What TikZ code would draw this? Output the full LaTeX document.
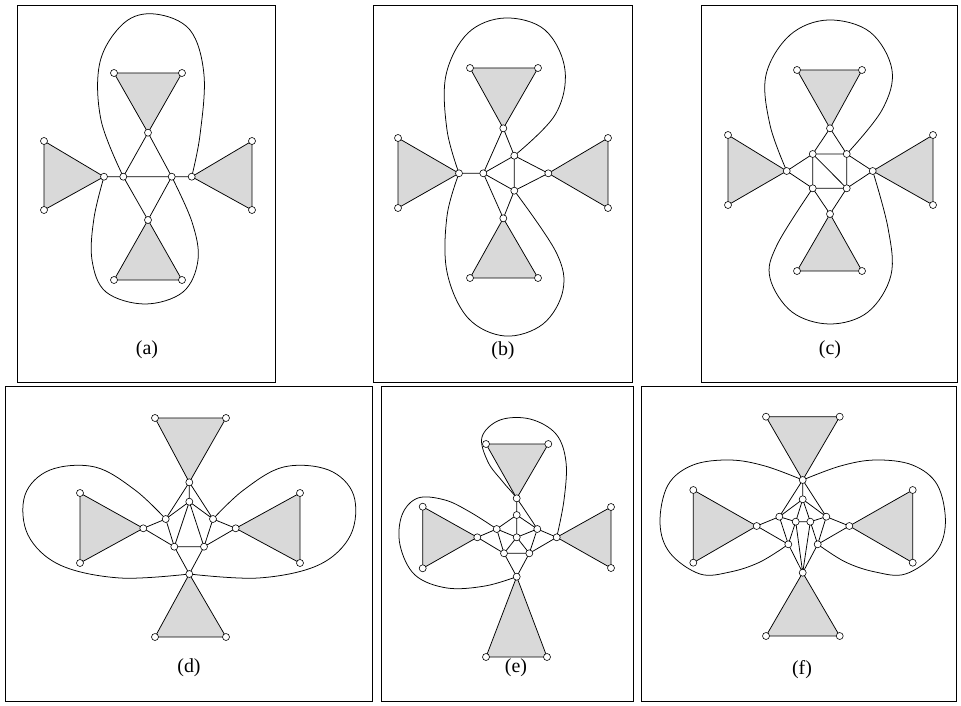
\documentclass[tikz,border=0pt]{standalone}
\usepackage{fontspec}
\setmainfont{Liberation Serif}
\newcommand{\shadetri}[3]{\filldraw[tri] (#1) -- (#2) -- (#3) -- cycle;}
\begin{document}
\begin{tikzpicture}[x=0.03cm, y=-0.03cm,
  dot/.style={circle, draw, fill=white, inner sep=0pt, minimum size=2.1mm, line width=0.5pt},
  link/.style={line width=0.65pt},
  lobe/.style={smooth, tension=0.6},
  tri/.style={fill=gray!30, draw, line width=0.65pt, line join=round},
  frame/.style={draw, line width=0.8pt},
  lab/.style={font=\fontsize{17}{20}\selectfont}
]
\useasboundingbox (0,0) rectangle (961,705);

% frames
\draw[frame] (17,5) rectangle (275,382);
\draw[frame] (373,5) rectangle (632,382);
\draw[frame] (701,5) rectangle (957,382);
\draw[frame] (5,386) rectangle (372,701);
\draw[frame] (381,386) rectangle (633,701);
\draw[frame] (641,386) rectangle (956,701);

% (a)
\coordinate (a-t) at (148,132.7);  \coordinate (a-b) at (148,220);
\coordinate (a-l) at (104,176.7);  \coordinate (a-r) at (191.7,176.7);
\coordinate (a-1) at (123.3,176.7); \coordinate (a-2) at (171.7,176.7);
\coordinate (a-t1) at (114,73);  \coordinate (a-t2) at (182,73);
\coordinate (a-b1) at (114,280); \coordinate (a-b2) at (182,280);
\coordinate (a-l1) at (44,141);  \coordinate (a-l2) at (44,210);
\coordinate (a-r1) at (252,141); \coordinate (a-r2) at (252,210);
\shadetri{a-t1}{a-t2}{a-t} \shadetri{a-b1}{a-b2}{a-b}
\shadetri{a-l1}{a-l2}{a-l} \shadetri{a-r1}{a-r2}{a-r}
\draw[link] (a-t) -- (a-1) -- (a-2) -- (a-t) (a-1) -- (a-b) -- (a-2)
  (a-l) -- (a-1) (a-r) -- (a-2);
\draw[link] plot[lobe] coordinates {(a-1) (101,120) (100,62) (124,23) (155,14) (190,30) (204,75) (200,135) (a-r)};
\draw[link] plot[lobe] coordinates {(a-l) (94,218) (92,260) (106,292) (145,304) (183,292) (198,260) (192,222) (a-2)};
\node[lab] (a-lab) at (147,350) {(a)};

% (b)
\coordinate (b-t) at (503.3,128.3); \coordinate (b-b) at (503.3,218.3);
\coordinate (b-l) at (459,173.3);   \coordinate (b-r) at (548.3,173.3);
\coordinate (b-1) at (514.3,155.7); \coordinate (b-2) at (483.3,173.3);
\coordinate (b-3) at (514.3,190.7);
\coordinate (b-t1) at (470,68);  \coordinate (b-t2) at (538,68);
\coordinate (b-b1) at (470,278); \coordinate (b-b2) at (538,278);
\coordinate (b-l1) at (398,138); \coordinate (b-l2) at (398,208);
\coordinate (b-r1) at (608,138); \coordinate (b-r2) at (608,208);
\shadetri{b-t1}{b-t2}{b-t} \shadetri{b-b1}{b-b2}{b-b}
\shadetri{b-l1}{b-l2}{b-l} \shadetri{b-r1}{b-r2}{b-r}
\draw[link] (b-t) -- (b-2) -- (b-1) -- (b-t) (b-1) -- (b-3) -- (b-2)
  (b-1) -- (b-r) -- (b-3) (b-2) -- (b-b) -- (b-3) (b-l) -- (b-2);
\draw[link] plot[lobe] coordinates {(b-l) (447,130) (446,75) (468,33) (505,18) (545,30) (565,70) (555,115) (b-1)};
\draw[link] plot[lobe] coordinates {(b-l) (447,216) (447,272) (468,318) (505,336) (543,324) (563,290) (556,252) (b-3)};
\node[lab] (b-lab) at (503,351) {(b)};

% (c)
\coordinate (c-t) at (830,128.3); \coordinate (c-b) at (830,214);
\coordinate (c-l) at (786.7,171); \coordinate (c-r) at (872.7,171);
\coordinate (c-1) at (812.7,154); \coordinate (c-2) at (846.7,154);
\coordinate (c-3) at (812.7,188.3); \coordinate (c-4) at (846.7,188.3);
\coordinate (c-t1) at (797,70);  \coordinate (c-t2) at (862,70);
\coordinate (c-b1) at (797,271); \coordinate (c-b2) at (862,271);
\coordinate (c-l1) at (728,135); \coordinate (c-l2) at (728,205);
\coordinate (c-r1) at (933,135); \coordinate (c-r2) at (933,205);
\shadetri{c-t1}{c-t2}{c-t} \shadetri{c-b1}{c-b2}{c-b}
\shadetri{c-l1}{c-l2}{c-l} \shadetri{c-r1}{c-r2}{c-r}
\draw[link] (c-t) -- (c-1) -- (c-2) -- (c-t) (c-1) -- (c-3) -- (c-4) -- (c-2)
  (c-1) -- (c-4) (c-l) -- (c-1) (c-l) -- (c-3) (c-r) -- (c-2) (c-r) -- (c-4)
  (c-3) -- (c-b) -- (c-4);
\draw[link] plot[lobe] coordinates {(c-l) (770,125) (766,75) (790,35) (828,20) (870,32) (892,70) (882,110) (c-2)};
\draw[link] plot[lobe] coordinates {(c-r) (888,228) (891,275) (868,312) (830,324) (792,312) (770,278) (777,245) (c-3)};
\node[lab] (c-lab) at (830,350) {(c)};

% (d)
\coordinate (d-t) at (189.3,482.3); \coordinate (d-b) at (189.3,574);
\coordinate (d-l) at (143.3,528.3); \coordinate (d-r) at (235.7,528.3);
\coordinate (d-1) at (189.3,501.7); \coordinate (d-2) at (165.7,519);
\coordinate (d-3) at (213,519);     \coordinate (d-4) at (174.3,546.7);
\coordinate (d-5) at (204,546.7);
\coordinate (d-t1) at (155,418); \coordinate (d-t2) at (226,418);
\coordinate (d-b1) at (155,637); \coordinate (d-b2) at (226,637);
\coordinate (d-l1) at (80,493);  \coordinate (d-l2) at (80,563);
\coordinate (d-r1) at (300,493); \coordinate (d-r2) at (300,563);
\shadetri{d-t1}{d-t2}{d-t} \shadetri{d-b1}{d-b2}{d-b}
\shadetri{d-l1}{d-l2}{d-l} \shadetri{d-r1}{d-r2}{d-r}
\draw[link] (d-t) -- (d-1) (d-t) -- (d-2) (d-t) -- (d-3)
  (d-2) -- (d-1) -- (d-3) (d-1) -- (d-4) (d-1) -- (d-5)
  (d-2) -- (d-4) -- (d-5) -- (d-3) (d-4) -- (d-b) -- (d-5)
  (d-2) -- (d-l) -- (d-4) (d-3) -- (d-r) -- (d-5);
\draw[link] plot[lobe] coordinates {(d-2) (135,490) (95,467) (50,470) (25,495) (28,535) (60,565) (120,578) (d-b)};
\draw[link] plot[lobe] coordinates {(d-3) (243.6,490) (283.6,467) (328.6,470) (353.6,495) (350.6,535) (318.6,565) (258.6,578) (d-b)};
\node[lab] (d-lab) at (189,668) {(d)};

% (e)
\coordinate (e-t) at (516.7,498.3); \coordinate (e-b) at (516.7,576.7);
\coordinate (e-l) at (477.3,537.3); \coordinate (e-r) at (556.7,537.3);
\coordinate (e-1) at (516.7,515);   \coordinate (e-2) at (496.7,529);
\coordinate (e-3) at (537.3,529);   \coordinate (e-4) at (516.7,537.3);
\coordinate (e-5) at (504,553.3);   \coordinate (e-6) at (529.3,553.3);
\coordinate (e-t1) at (486,444);   \coordinate (e-t2) at (548.3,444);
\coordinate (e-b1) at (486,657);   \coordinate (e-b2) at (547,657);
\coordinate (e-l1) at (422.7,506.7); \coordinate (e-l2) at (422.7,568.3);
\coordinate (e-r1) at (611,507);   \coordinate (e-r2) at (611,568);
\shadetri{e-t1}{e-t2}{e-t} \shadetri{e-b1}{e-b2}{e-b}
\shadetri{e-l1}{e-l2}{e-l} \shadetri{e-r1}{e-r2}{e-r}
\draw[link] (e-t) -- (e-4) (e-2) -- (e-1) -- (e-3)
  (e-2) -- (e-4) -- (e-3) (e-2) -- (e-5) -- (e-4) -- (e-6) -- (e-3)
  (e-5) -- (e-6) (e-5) -- (e-b) -- (e-6)
  (e-2) -- (e-l) -- (e-5) (e-3) -- (e-r) -- (e-6);
\draw[link] plot[lobe] coordinates {(e-r) (564,500) (566,462) (556,434) (530,419) (500,420) (482,437) (488,462) (503,482) (e-t) (e-3)};
\draw[link] plot[lobe] coordinates {(e-2) (470,512) (445,500) (418,498) (402,515) (400,545) (415,575) (447,588) (485,586) (e-b)};
\node[lab] (e-lab) at (516,668) {(e)};

% (f)
\coordinate (f-t) at (802.7,480);   \coordinate (f-b) at (802.7,572.7);
\coordinate (f-l) at (756.7,526);   \coordinate (f-r) at (849.3,526);
\coordinate (f-1) at (802.7,499.3); \coordinate (f-2) at (779.3,516.7);
\coordinate (f-3) at (826.3,516.7); \coordinate (f-4) at (795.7,521.7);
\coordinate (f-5) at (810.3,521.7); \coordinate (f-6) at (788.3,544.3);
\coordinate (f-7) at (817.7,544.3);
\coordinate (f-t1) at (766,416.7);  \coordinate (f-t2) at (839.7,416.7);
\coordinate (f-b1) at (766,636);    \coordinate (f-b2) at (839.7,636);
\coordinate (f-l1) at (693.3,490);  \coordinate (f-l2) at (693.3,562.7);
\coordinate (f-r1) at (912.7,490);  \coordinate (f-r2) at (912.7,562.7);
\shadetri{f-t1}{f-t2}{f-t} \shadetri{f-b1}{f-b2}{f-b}
\shadetri{f-l1}{f-l2}{f-l} \shadetri{f-r1}{f-r2}{f-r}
\draw[link] (f-t) -- (f-1) (f-t) -- (f-2) (f-t) -- (f-3)
  (f-1) -- (f-2) (f-1) -- (f-3) (f-1) -- (f-4) (f-1) -- (f-5)
  (f-2) -- (f-4) -- (f-5) -- (f-3)
  (f-2) -- (f-6) -- (f-4) (f-3) -- (f-7) -- (f-5)
  (f-l) -- (f-2) (f-l) -- (f-6) (f-r) -- (f-3) (f-r) -- (f-7)
  (f-6) -- (f-b) -- (f-7) (f-4) -- (f-b) -- (f-5);
\draw[link] plot[lobe] coordinates {(f-t) (765,466) (730,460) (693,465) (668,485) (660,523) (670,553) (700,574) (730,572) (760,562) (f-6)};
\draw[link] plot[lobe] coordinates {(f-t) (840.4,466) (875.4,460) (912.4,465) (937.4,485) (945.4,523) (935.4,553) (905.4,574) (875.4,572) (845.4,562) (f-7)};
\node[lab] (f-lab) at (802,670) {(f)};

% vertices
\foreach \p in {a-t,a-b,a-l,a-r,a-1,a-2,a-t1,a-t2,a-b1,a-b2,a-l1,a-l2,a-r1,a-r2,
  b-t,b-b,b-l,b-r,b-1,b-2,b-3,b-t1,b-t2,b-b1,b-b2,b-l1,b-l2,b-r1,b-r2,
  c-t,c-b,c-l,c-r,c-1,c-2,c-3,c-4,c-t1,c-t2,c-b1,c-b2,c-l1,c-l2,c-r1,c-r2,
  d-t,d-b,d-l,d-r,d-1,d-2,d-3,d-4,d-5,d-t1,d-t2,d-b1,d-b2,d-l1,d-l2,d-r1,d-r2,
  e-t,e-b,e-l,e-r,e-1,e-2,e-3,e-4,e-5,e-6,e-t1,e-t2,e-b1,e-b2,e-l1,e-l2,e-r1,e-r2,
  f-t,f-b,f-l,f-r,f-1,f-2,f-3,f-4,f-5,f-6,f-7,f-t1,f-t2,f-b1,f-b2,f-l1,f-l2,f-r1,f-r2}
  \node[dot] at (\p) {};
\end{tikzpicture}
\end{document}
